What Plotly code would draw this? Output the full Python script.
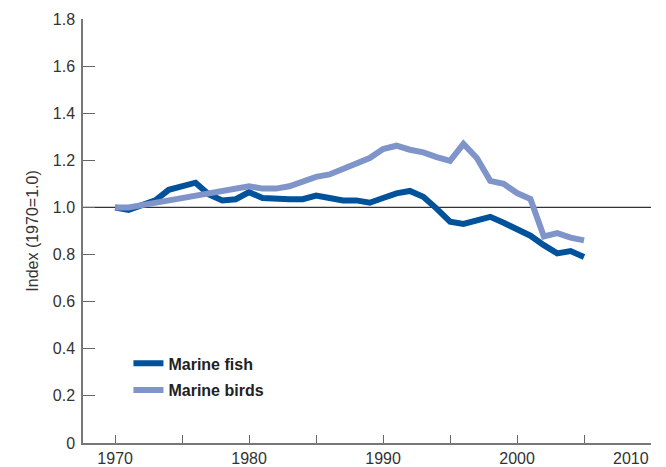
import plotly.graph_objects as go

years = list(range(1970, 2006))
marine_fish = [1.00, 0.99, 1.01, 1.03, 1.075, 1.09, 1.105, 1.055, 1.03, 1.035,
               1.065, 1.04, 1.035, 1.035, 1.035, 1.05, 1.04, 1.03, 1.03, 1.02,
               1.04, 1.06, 1.07, 1.045, 0.995, 0.94, 0.93, 0.945, 0.96, 0.935,
               0.91, 0.88, 0.84, 0.805, 0.815, 0.79]
marine_birds = [1.00, 1.00, 1.01, 1.02, 1.03, 1.04, 1.05, 1.06, 1.07, 1.08,
                1.09, 1.08, 1.08, 1.09, 1.11, 1.13, 1.14, 1.165, 1.19, 1.21,
                1.248, 1.262, 1.245, 1.234, 1.214, 1.198, 1.27, 1.21, 1.113, 1.10,
                1.061, 1.036, 0.877, 0.891, 0.872, 0.86]

x_tickvals = [1970, 1975, 1980, 1985, 1990, 1995, 2000, 2005, 2010]
x_ticktext = ["1970", "", "1980", "", "1990", "", "2000", "", ""]
x_last_label = "2010"
y_tickvals = [0, 0.2, 0.4, 0.6, 0.8, 1.0, 1.2, 1.4, 1.6, 1.8]
y_ticktext = ["0", "0.2", "0.4", "0.6", "0.8", "1.0", "1.2", "1.4", "1.6", "1.8"]
baseline = 1.0

FONT = "Liberation Sans, Arial, Helvetica, sans-serif"
TXT = "#333333"

fig = go.Figure()
fig.add_trace(go.Scatter(x=years, y=marine_fish, mode="lines", name="Marine fish",
                         line=dict(color="#00529b", width=6), legendgroup="a"))
fig.add_trace(go.Scatter(x=years, y=marine_birds, mode="lines", name="Marine birds",
                         line=dict(color="#7f94c8", width=6), legendgroup="b"))

fig.add_shape(type="line", xref="x", yref="y", x0=1967.6, x1=2010, y0=baseline, y1=baseline,
              line=dict(color="#333333", width=1.2), layer="below")

fig.add_annotation(x=2010, y=0, xref="x", yref="y", text=x_last_label, showarrow=False,
                   xanchor="right", yanchor="top", yshift=-5, xshift=0,
                   font=dict(family=FONT, size=16, color=TXT))

fig.update_layout(
    width=666, height=467,
    margin=dict(l=83, r=15, t=19, b=24),
    paper_bgcolor="white", plot_bgcolor="white",
    font=dict(family=FONT, size=16, color=TXT),
    showlegend=True,
    legend=dict(x=0.08, y=0.156, xanchor="left", yanchor="middle",
                bgcolor="rgba(0,0,0,0)", traceorder="grouped", tracegroupgap=3,
                font=dict(family=FONT, size=16, color="#222222", weight="bold")),
    xaxis=dict(range=[1967.6, 2010], tickvals=x_tickvals, ticktext=x_ticktext,
               automargin=False,
               ticks="inside", ticklen=8, tickwidth=1.2, tickcolor="#666666",
               showline=True, linecolor="#777777", linewidth=1.5,
               showgrid=False, zeroline=False, tickfont=dict(size=16, color=TXT)),
    yaxis=dict(range=[0, 1.8], tickvals=y_tickvals, ticktext=y_ticktext,
               automargin=False, ticklabelstandoff=3,
               ticks="inside", ticklen=12, tickwidth=1.2, tickcolor="#666666",
               showline=True, linecolor="#777777", linewidth=1.5,
               showgrid=False, zeroline=False, tickfont=dict(size=16, color=TXT),
               title=dict(text="Index (1970=1.0)", font=dict(size=16, color=TXT), standoff=10)),
)

fig.write_html("out.html", config={"displayModeBar": False},
               post_script="document.body.style.margin='0';")
